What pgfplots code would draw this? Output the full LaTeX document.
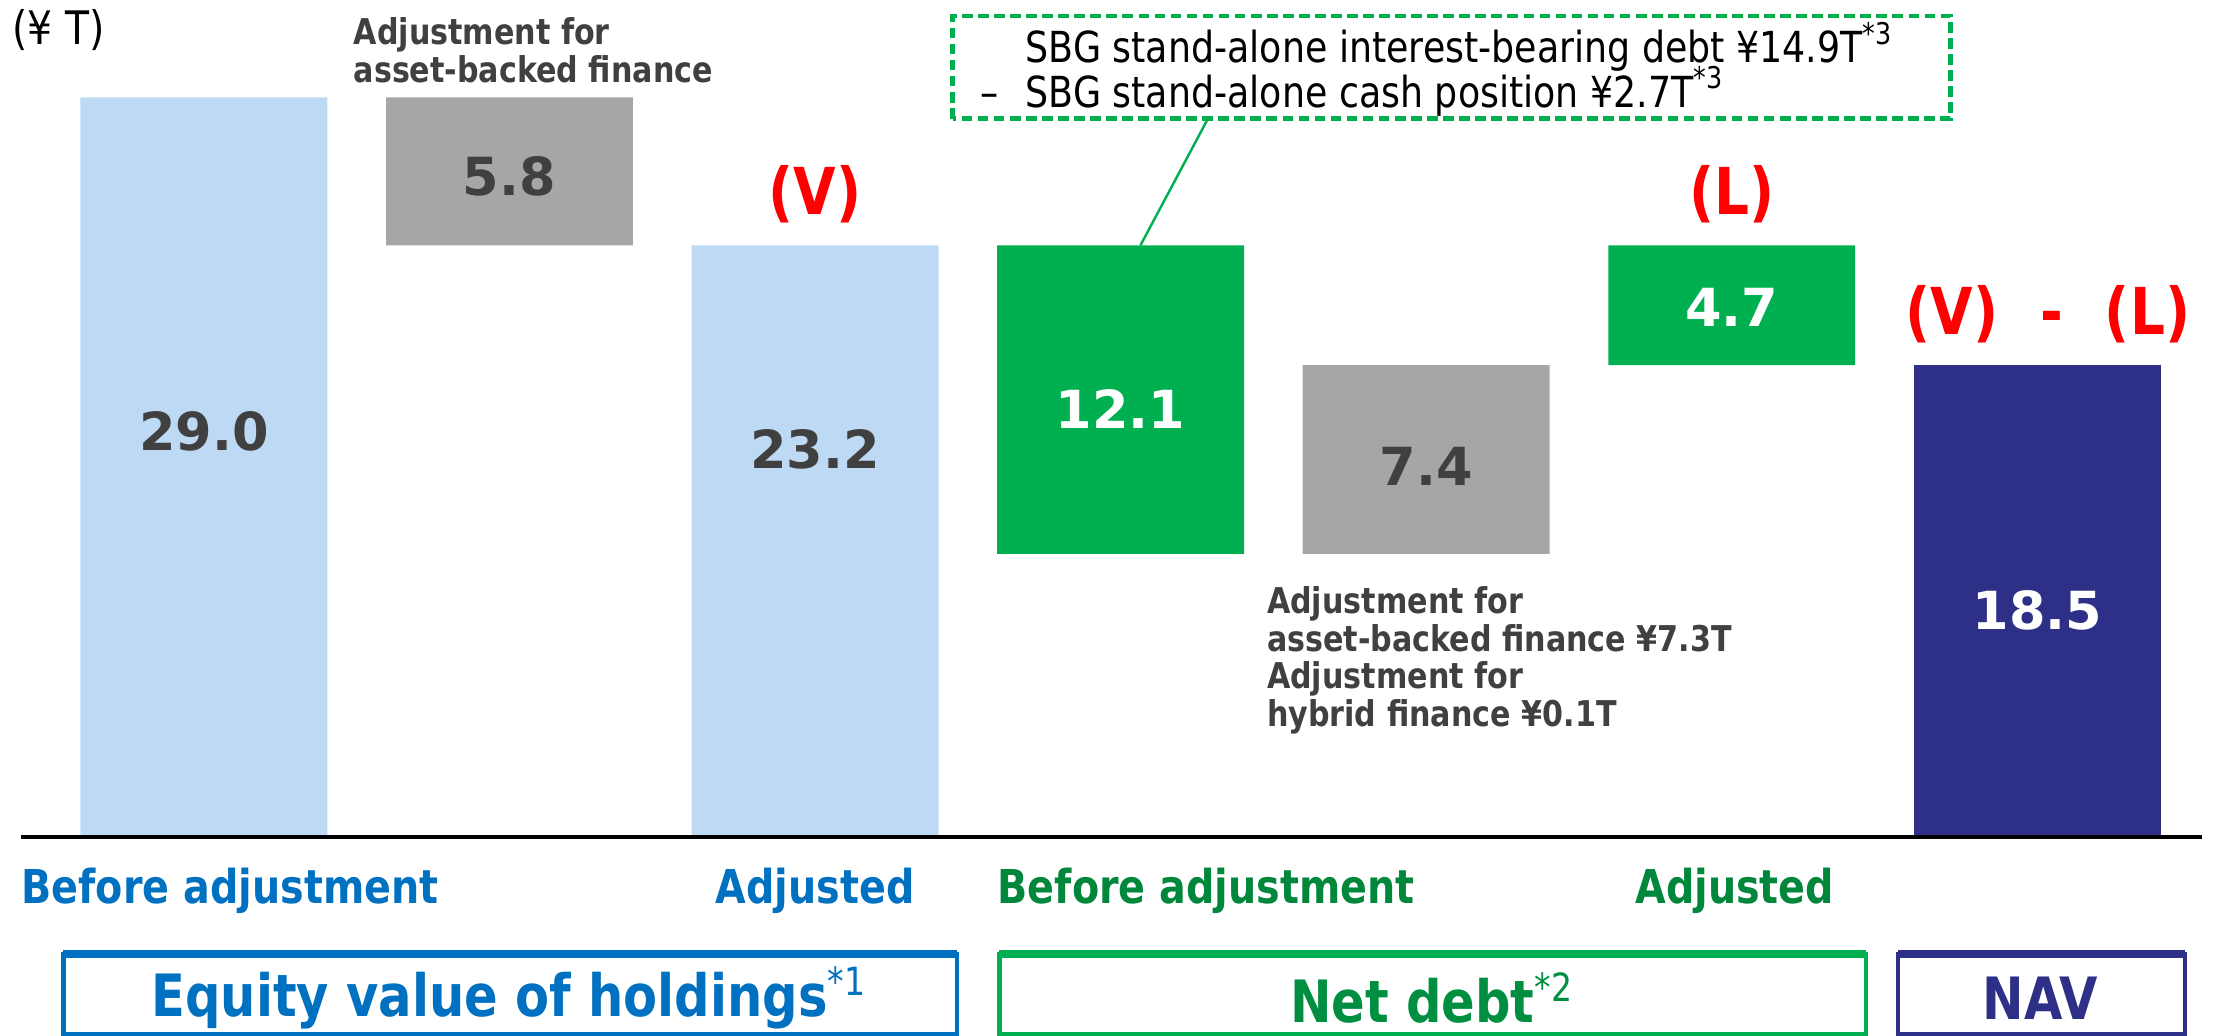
\documentclass[border=0pt]{standalone}
\usepackage{pgfplots}
\pgfplotsset{compat=1.18}
\usepackage{fontspec}
\setmainfont{DejaVu Sans}
\newfontfamily\cond{DejaVu Sans}[FakeStretch=0.85]
\definecolor{lblue}{HTML}{BDD9F4}
\definecolor{dgray}{HTML}{A6A6A6}
\definecolor{bgreen}{HTML}{00B050}
\definecolor{navy}{HTML}{2E3088}
\definecolor{tblue}{HTML}{0070C0}
\definecolor{tgreen}{HTML}{00873C}
\definecolor{txt}{HTML}{404040}
\tikzset{
  vlab/.style={font=\bfseries\fontsize{10.8}{12}\selectfont},
  redlab/.style={font=\cond\bfseries\fontsize{13.3}{15}\selectfont, text=red},
  cat/.style={font=\cond\bfseries\fontsize{9.6}{11}\selectfont},
  grp/.style={font=\cond\bfseries\fontsize{12}{14}\selectfont},
  ann/.style={anchor=north west, inner sep=0, align=left, text=txt, font=\cond\bfseries\fontsize{7.3}{7.7}\selectfont},
  dbox/.style={anchor=base west, inner sep=0, font=\cond\fontsize{8.8}{9}\selectfont},
}
\begin{document}
\begin{tikzpicture}
\begin{axis}[
  scale only axis, width=16cm, height=7.49cm,
  xmin=-0.6674, xmax=6.575, ymin=-7.80, ymax=32.82,
  axis line style={draw=none}, xtick=\empty, ytick=\empty,
  clip=false, ybar stacked, bar width=0.808,
]
\path (rel axis cs:0,0) rectangle (rel axis cs:1,1);
% invisible base
\addplot[fill=none, draw=none] coordinates {(0,0) (1,23.2) (2,0) (3,11.1) (4,11.1) (5,18.5) (6,0)};
% light blue
\addplot[fill=lblue, draw=none] coordinates {(0,29.0) (1,0) (2,23.2) (3,0) (4,0) (5,0) (6,0)};
% gray adjustments
\addplot[fill=dgray, draw=none] coordinates {(0,0) (1,5.8) (2,0) (3,0) (4,7.4) (5,0) (6,0)};
% green
\addplot[fill=bgreen, draw=none] coordinates {(0,0) (1,0) (2,0) (3,12.1) (4,0) (5,4.7) (6,0)};
% navy
\addplot[fill=navy, draw=none] coordinates {(0,0) (1,0) (2,0) (3,0) (4,0) (5,0) (6,18.5)};

% anchor points for labels drawn on top
\coordinate (v0) at (axis cs:0,15.9);
\coordinate (v1) at (axis cs:1,25.9);
\coordinate (v2) at (axis cs:2,15.2);
\coordinate (v3) at (axis cs:3,16.8);
\coordinate (v4) at (axis cs:4,14.55);
\coordinate (v5) at (axis cs:5,20.75);
\coordinate (v6) at (axis cs:6,8.9);
\coordinate (bl) at (axis cs:-0.598,0);
\coordinate (br) at (axis cs:6.538,0);
\coordinate (c1) at (axis cs:3.286,28.17);
\coordinate (c2) at (axis cs:3.065,23.2);

% red labels
\node[redlab] at (axis cs:2,25.2) {(V)};
\node[redlab] at (axis cs:5,25.2) {(L)};
\node[redlab] at (axis cs:6.035,20.5) {(V)\hspace{8.6pt}-\hspace{8.6pt}(L)};

% unit
\node[anchor=north west, inner sep=0, font=\cond\fontsize{9.5}{10}\selectfont] at (axis cs:-0.63,32.5) {(¥ T)};

% annotations
\node[ann] at (axis cs:0.487,32.15) {Adjustment for\\asset-backed finance};
\node[ann] at (axis cs:3.476,9.85) {Adjustment for\\asset-backed finance ¥7.3T\\Adjustment for\\hybrid finance ¥0.1T};

% dashed box
\draw[bgreen, line width=0.9pt, dash pattern=on 2.2pt off 1.1pt] (axis cs:2.450,28.17) rectangle (axis cs:5.716,32.2);
\node[dbox] at (axis cs:2.686,30.35) {SBG stand-alone interest-bearing debt ¥14.9T\textsuperscript{*3}};
\node[dbox] at (axis cs:2.538,28.62) {–};
\node[dbox] at (axis cs:2.686,28.62) {SBG stand-alone cash position ¥2.7T\textsuperscript{*3}};

% category labels
\node[cat, text=tblue] at (axis cs:0.0855,-2.10) {Before adjustment};
\node[cat, text=tblue] at (axis cs:2.0,-2.10) {Adjusted};
\node[cat, text=tgreen] at (axis cs:3.28,-2.10) {Before adjustment};
\node[cat, text=tgreen] at (axis cs:5.01,-2.10) {Adjusted};

% group boxes
\draw[tblue, line width=0.9pt] (axis cs:-0.4596,-7.72) rectangle (axis cs:2.464,-4.59);
\draw[tblue, line width=1.8pt] (axis cs:-0.4596,-4.59) -- (axis cs:2.464,-4.59);
\draw[bgreen, line width=0.9pt] (axis cs:2.603,-7.72) rectangle (axis cs:5.439,-4.59);
\draw[bgreen, line width=1.8pt] (axis cs:2.603,-4.59) -- (axis cs:5.439,-4.59);
\draw[navy, line width=0.9pt] (axis cs:5.545,-7.72) rectangle (axis cs:6.483,-4.59);
\draw[navy, line width=1.8pt] (axis cs:5.545,-4.59) -- (axis cs:6.483,-4.59);
\node[grp, text=tblue] at (axis cs:1.0,-6.31) {Equity value of holdings\textsuperscript{\mdseries*1}};
\node[grp, text=tgreen!80!bgreen] at (axis cs:4.02,-6.31) {Net debt\textsuperscript{\mdseries*2}};
\node[grp, text=navy] at (axis cs:6.01,-6.31) {NAV};
\end{axis}
\pgfresetboundingbox
\useasboundingbox (current axis.south west) rectangle (current axis.north east);
% on top of the bars
\draw[black, line width=1pt] (bl) -- (br);
\draw[bgreen, line width=0.5pt] (c1) -- (c2);
\node[vlab, text=txt] at (v0) {29.0};
\node[vlab, text=txt] at (v1) {5.8};
\node[vlab, text=txt] at (v2) {23.2};
\node[vlab, text=white] at (v3) {12.1};
\node[vlab, text=txt] at (v4) {7.4};
\node[vlab, text=white] at (v5) {4.7};
\node[vlab, text=white] at (v6) {18.5};
\end{tikzpicture}
\end{document}
